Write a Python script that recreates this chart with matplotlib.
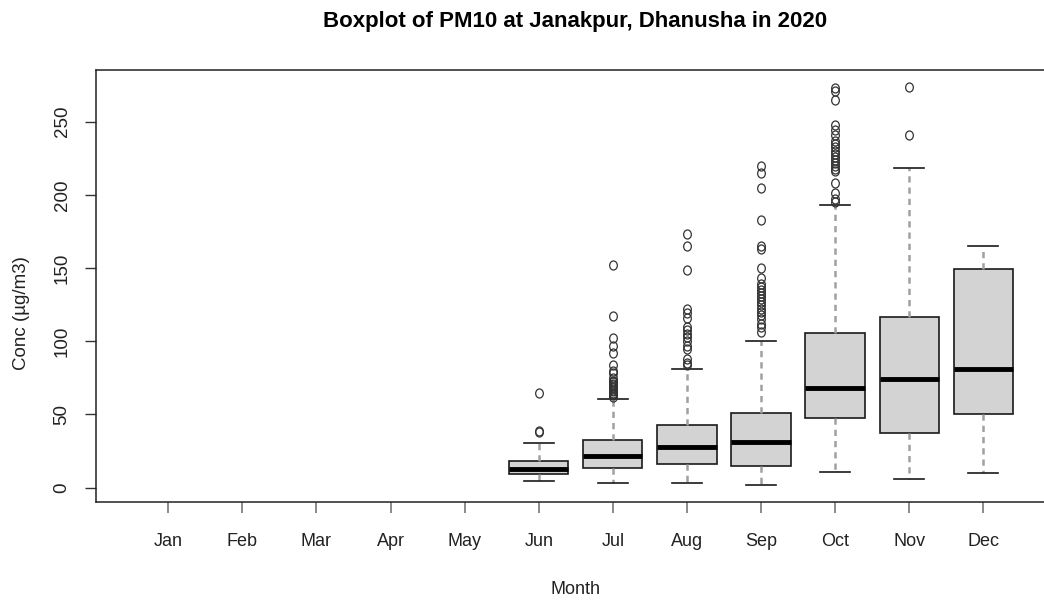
import numpy as np
import matplotlib
matplotlib.use("Agg")
import matplotlib.pyplot as plt
from matplotlib.path import Path
from matplotlib.transforms import Affine2D

# --- PM10 monthly summary (µg/m3), Janakpur 2020 ---
months = ['Jan', 'Feb', 'Mar', 'Apr', 'May', 'Jun',
          'Jul', 'Aug', 'Sep', 'Oct', 'Nov', 'Dec']

# only Jun..Dec have observations
data_months = ['Jun', 'Jul', 'Aug', 'Sep', 'Oct', 'Nov', 'Dec']
whis_lo = [4.8, 3.0, 3.2, 1.8, 10.9, 5.9, 10.2]
q1 = [9.4, 13.7, 16.2, 14.8, 47.4, 37.6, 50.1]
median = [12.8, 21.7, 27.8, 31.2, 67.9, 74.0, 81.1]
q3 = [18.4, 32.6, 42.8, 51.0, 105.9, 116.4, 149.2]
whis_hi = [30.7, 60.6, 80.9, 100.4, 193.1, 218.2, 165.1]

out_jun = [38, 39, 65]
out_jul = [62, 63, 64, 65, 66, 67, 68, 69, 70, 71, 72, 73, 75, 78, 80,
           84, 92, 97, 102, 117, 152]
out_aug = [84, 85, 88, 95, 97, 100, 103, 105, 108, 110, 116, 119, 122,
           149, 165, 173]
out_sep = [106, 110, 112, 115, 118, 120, 122, 125, 127, 129, 131, 133,
           135, 137, 139, 143, 150, 163, 165, 183, 205, 215, 220]
out_oct = [195, 197, 201, 208, 216, 218, 220, 222, 224, 226, 228, 230,
           233, 235, 237, 241, 244, 248, 265, 271, 273]
out_nov = [241, 274]
out_dec = []
outliers = [out_jun, out_jul, out_aug, out_sep, out_oct, out_nov, out_dec]

stats = []
for i, m in enumerate(data_months):
    stats.append(dict(label=m, whislo=whis_lo[i], q1=q1[i], med=median[i],
                      q3=q3[i], whishi=whis_hi[i], fliers=outliers[i]))
positions = [months.index(m) + 1 for m in data_months]

plt.rcParams['font.family'] = ['Liberation Sans', 'DejaVu Sans']

fig = plt.figure(figsize=(10.44, 6), dpi=100)
W, H = 1044, 600
# plot region (pixels): left 95.7, right 1055.9 (runs past the canvas), top 70, bottom 502.3
ax = fig.add_axes([95.7 / W, (H - 502.3) / H, (1055.9 - 95.7) / W, (502.3 - 70) / H])

# slightly tall open circles for the outliers
oval = Path.unit_circle().transformed(Affine2D().scale(0.85, 1.0))

ax.bxp(stats, positions=positions, widths=0.8, patch_artist=True,
       capwidths=0.4,
       boxprops=dict(facecolor='#d3d3d3', edgecolor='#1a1a1a', linewidth=1.2),
       medianprops=dict(color='black', linewidth=3.5),
       whiskerprops=dict(color='#a0a0a0', linewidth=1.8, linestyle=(0, (2.5, 2.0))),
       capprops=dict(color='#1a1a1a', linewidth=1.2),
       flierprops=dict(marker=oval, markersize=6.5, markerfacecolor='none',
                       markeredgecolor='#333333', markeredgewidth=0.9,
                       linestyle='none'),
       manage_ticks=False)

ax.set_xlim(0.02, 12.98)
ax.set_ylim(-10.0, 285.3)

ax.set_xticks(range(1, 13))
ax.set_xticklabels(months)
ax.set_yticks([0, 50, 100, 150, 200, 250])
ax.tick_params(axis='x', direction='out', length=8, width=1.2, color='#777777',
               labelsize=13, labelcolor='#222222', pad=14)
ax.tick_params(axis='y', direction='out', length=8, width=1, color='#333333',
               labelsize=13.5, labelcolor='#222222', pad=10)
for lab in ax.get_yticklabels():
    lab.set_rotation(90)
    lab.set_va('center')

for s in ax.spines.values():
    s.set_color('#222222')
    s.set_linewidth(1.1)

fig.text(575 / W, 1 - 21 / H, 'Boxplot of PM10 at Janakpur, Dhanusha in 2020',
         ha='center', va='center', fontsize=16, fontweight='bold', color='black')
fig.text(575 / W, 1 - 590 / H, 'Month', ha='center', va='center',
         fontsize=13, color='#222222')
fig.text(22 / W, 1 - 313 / H, 'Conc (µg/m3)', ha='center', va='center',
         rotation=90, fontsize=13.5, color='#222222')

fig.savefig('out.png', dpi=100)
